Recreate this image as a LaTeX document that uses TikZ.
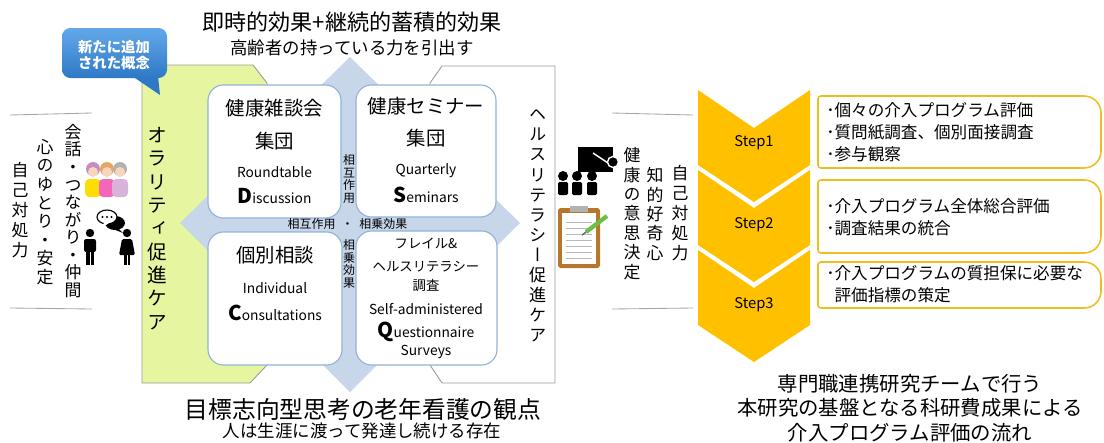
\documentclass[tikz,border=0pt]{standalone}
\usepackage{fontspec}
\setmainfont{Noto Sans CJK JP}
\newfontfamily\tatefont[RawFeature=+vert]{Noto Sans CJK JP}

\definecolor{oragreen}{HTML}{E5F5A0}
\definecolor{crossblue}{HTML}{C8D6EA}
\definecolor{boxblue}{HTML}{92B2DA}
\definecolor{stepgold}{HTML}{FFC000}
\definecolor{goldline}{HTML}{EDBE20}
\definecolor{calloutlight}{HTML}{62A9EA}
\definecolor{calloutdark}{HTML}{2F78C6}
\definecolor{clipbrown}{HTML}{B5782A}
\definecolor{pencilgreen}{HTML}{6DBE45}
\definecolor{skin}{HTML}{F6D7BC}

% vertical writing: one glyph per line
\ExplSyntaxOn
\cs_new:Npn \tate_glyph:n #1 { \hbox_to_wd:nn { 1em } { \hss #1 \hss } }
\NewDocumentCommand \tate { m m }
  {
    \vbox:n
      {
        \tatefont
        \skip_set:Nn \baselineskip { #1 }
        \dim_set:Nn \lineskiplimit { -100pt }
        \tl_map_function:nN { #2 } \tate_glyph:n
      }
  }
\ExplSyntaxOff

\newcommand\bigini[1]{{\fontsize{14.5}{14.5}\selectfont\bfseries #1}}

\begin{document}
\begin{tikzpicture}[x=0.025cm,y=-0.025cm,
    every node/.style={inner sep=0pt,text=black},
    panel/.style={draw=gray!80,line width=0.6pt},
    qbox/.style={draw=boxblue,line width=0.8pt,fill=white,rounded corners=11pt},
    sepline/.style={draw=gray!70,line width=0.6pt},
    chevron/.style={fill=stepgold},
    goldbox/.style={draw=goldline,line width=1.1pt,fill=white},
    title/.style={font=\fontsize{15.7}{18}\selectfont},
    subtitle/.style={font=\fontsize{12.4}{14}\selectfont},
    boxhead/.style={font=\fontsize{13.8}{16}\selectfont},
    boxeng/.style={font=\fontsize{9.8}{12}\selectfont},
    boxsmall/.style={font=\fontsize{9.5}{11}\selectfont},
    chan/.style={font=\fontsize{8.5}{9}\selectfont},
    steplabel/.style={font=\fontsize{10.5}{12}\selectfont},
    steptext/.style={font=\fontsize{11.8}{15.5}\selectfont,anchor=west,align=left},
    flow/.style={font=\fontsize{14.5}{17.4}\selectfont,align=center},
  ]
\useasboundingbox (0,0) rectangle (1104,442);

% headings
\node[title] (effect) at (352,22) {即時的効果+継続的蓄積的効果};
\node[subtitle] (power) at (352,48) {高齢者の持っている力を引出す};
\node[font=\fontsize{16.9}{18}\selectfont] (viewpoint) at (363,409) {目標志向型思考の老年看護の観点};
\node[subtitle] (lifelong) at (362,431) {人は生涯に渡って発達し続ける存在};

% side panels
\draw[panel,fill=oragreen] (142,65) -- (253,65) -- (267,83) -- (267,365) -- (250,383) -- (142,383) -- cycle;
\draw[panel,fill=white] (442,66) -- (555,66) -- (555,383) -- (442,383) -- (430,365) -- (430,83) -- cycle;

% cross behind the four boxes
\fill[crossblue] (350,57) -- (520,223) -- (350,392) -- (180,223) -- cycle;

\draw[qbox] (208,85) rectangle (341,218);
\draw[qbox] (356,85) rectangle (496,217);
\draw[qbox] (208,232) rectangle (342,365);
\draw[qbox] (356,231) rectangle (497,365);

\node[boxhead] (chatA) at (274.5,108) {健康雑談会};
\node[boxhead] (chatB) at (274.5,141) {集団};
\node[boxeng] (chatC) at (274.5,172) {Roundtable};
\node[boxeng] (chatD) at (274.5,196) {\bigini{D}iscussion};

\node[boxhead] (semA) at (426,106) {健康セミナー};
\node[boxhead] (semB) at (426,138) {集団};
\node[boxeng] (semC) at (426,171) {Quarterly};
\node[boxeng] (semD) at (426,195) {\bigini{S}eminars};

\node[boxhead] (consA) at (275,255) {個別相談};
\node[boxeng] (consB) at (275,288) {Individual};
\node[boxeng] (consC) at (275,313) {\bigini{C}onsultations};

\node[boxsmall] (survA) at (426,243) {フレイル\&};
\node[boxsmall] (survB) at (426,267) {ヘルスリテラシー};
\node[boxsmall] (survC) at (426,285) {調査};
\node[boxeng] (survD) at (426,309) {Self-administered};
\node[boxeng] (survE) at (426,332) {\bigini{Q}uestionnaire};
\node[boxeng] (survF) at (426,352) {Surveys};

\node[chan] (mutualV) at (349,179) {\tate{9pt}{相互作用}};
\node[chan] (synergyV) at (349,264) {\tate{9pt}{相乗効果}};
\node[chan] (mutualH) at (347.5,224) {相互作用\hspace{0.5em}・\hspace{0.5em}相乗効果};

\node[font=\fontsize{14}{14}\selectfont] (oracare) at (157,228.5) {\tate{16.6pt}{オラリティ促進ケア}};
\node[font=\fontsize{12.2}{12}\selectfont] (hlcare) at (538,226) {\tate{14.3pt}{ヘルスリテラシー促進ケア}};

% new concept callout
\fill[calloutdark] (132,76) -- (158,76) -- (160,95) -- cycle;
\shade[top color=calloutlight,bottom color=calloutdark,rounded corners=6pt] (62,28) rectangle (167,78);
\node[font=\fontsize{10.2}{11.3}\selectfont\bfseries,text=white,align=center] (newidea) at (114,55) {新たに追加\\された概念};

% left column
\draw[sepline] (10,115) -- (92,113);
\draw[sepline] (10,308) -- (92,309);
\node[font=\fontsize{12}{12}\selectfont] (talk) at (73,211) {\tate{12.5pt}{会話・つながり・仲間}};
\node[font=\fontsize{12}{12}\selectfont] (ease) at (45,212) {\tate{13.2pt}{心のゆとり・安定}};
\node[font=\fontsize{12}{12}\selectfont] (copeL) at (20,210) {\tate{14.2pt}{自己対処力}};

% elderly friends
\fill[white] (82,160) rectangle (140,197);
\foreach \cx/\hair/\cloth in {93/violet!45/yellow!80!orange, 107/brown!50!orange!70/magenta!60, 120/gray!60/violet!30}{
  \fill[\cloth,rounded corners=3pt] (\cx-8,179) rectangle (\cx+8,197);
  \fill[\hair] (\cx,169) circle (7);
  \fill[skin] (\cx,172) circle (5);
}
% two people talking
\fill[black] (115,223) ellipse [x radius=10, y radius=7];
\fill[black] (118,228) -- (123,233) -- (113,229) -- cycle;
\draw[black,fill=white,line width=0.8pt] (107,217) ellipse [x radius=10, y radius=7];
\fill[white] (104,223) -- (100,229) -- (109,223) -- cycle;
\foreach \dx in {102.5,107,111.5} \fill (\dx,217) circle (1.2);
\fill (90,233) circle (4.2);
\fill[rounded corners=1.5pt] (84,239) rectangle (96,252);
\fill (86,250) rectangle (89.5,265);
\fill (90.5,250) rectangle (94,265);
\fill (127,233) circle (4.2);
\fill[rounded corners=1pt] (122,239) -- (132,239) -- (135,255) -- (119,255) -- cycle;
\fill (124,254) rectangle (126.5,265);
\fill (127.5,254) rectangle (130,265);

% right column
\draw[sepline] (612,113) -- (693,115);
\draw[sepline] (612,309) -- (693,308);
\node[font=\fontsize{12}{12}\selectfont] (decide) at (632,213.5) {\tate{13.8pt}{健康の意思決定}};
\node[font=\fontsize{12}{12}\selectfont] (curious) at (655,214) {\tate{13.8pt}{知的好奇心}};
\node[font=\fontsize{12}{12}\selectfont] (copeR) at (680,213) {\tate{14.2pt}{自己対処力}};

% seminar pictogram
\fill[black] (578,147) rectangle (613,172);
\draw[white,line width=1pt] (593,153) -- (608,163);
\fill[black,draw=white,line width=1pt] (613,162) circle (5.5);
\foreach \ax in {563,577,592}{
  \fill (\ax,176) circle (5);
  \fill[rounded corners=1pt] (\ax-5,182) rectangle (\ax+5,195);
}
% clipboard
\fill[clipbrown,rounded corners=2pt] (558,208) rectangle (600,268);
\fill[white] (562,213) rectangle (596,264);
\foreach \ly in {222,228,...,258} \draw[gray!55,line width=0.4pt] (566,\ly) -- (592,\ly);
\fill[gray!60] (570,206) rectangle (588,212);
\draw[pencilgreen,line width=3pt] (586,232) -- (607,216);
\draw[black!60,line width=1pt] (582,235) -- (586,232);

% evaluation steps
\foreach \y/\s in {90/1,170/2,250/3}{
  \fill[chevron] (698,\y) -- (754,\y+38) -- (810,\y) -- (810,\y+75) -- (754,\y+112) -- (698,\y+75) -- cycle;
}
\node[steplabel] (step1) at (754,143) {Step1};
\node[steplabel] (step2) at (754,225) {Step2};
\node[steplabel] (step3) at (754,305) {Step3};

\draw[goldbox] (818,132) [rounded corners=2pt] -- (818,96) -- (1000,96) [rounded corners=12pt] -- (1101,96) -- (1101,168) -- (1000,168) [rounded corners=2pt] -- (818,168) -- cycle;
\draw[goldbox] (818,216) [rounded corners=2pt] -- (818,180) -- (1000,180) [rounded corners=12pt] -- (1101,180) -- (1101,253) -- (1000,253) [rounded corners=2pt] -- (818,253) -- cycle;
\draw[goldbox] (818,285) [rounded corners=2pt] -- (818,262) -- (1000,262) [rounded corners=12pt] -- (1101,262) -- (1101,308) -- (1000,308) [rounded corners=2pt] -- (818,308) -- cycle;

\node[steptext] (evalA) at (826,132) {･個々の介入プログラム評価\\･質問紙調査、個別面接調査\\･参与観察};
\node[steptext] (evalB) at (826,217) {･介入プログラム全体総合評価\\･調査結果の統合};
\node[steptext] (evalC) at (826,284) {･介入プログラムの質担保に必要な\\\hspace*{0.5em}評価指標の策定};

\node[flow] (flowtitle) at (910,408) {専門職連携研究チームで行う\\本研究の基盤となる科研費成果による\\介入プログラム評価の流れ};
\end{tikzpicture}
\end{document}
